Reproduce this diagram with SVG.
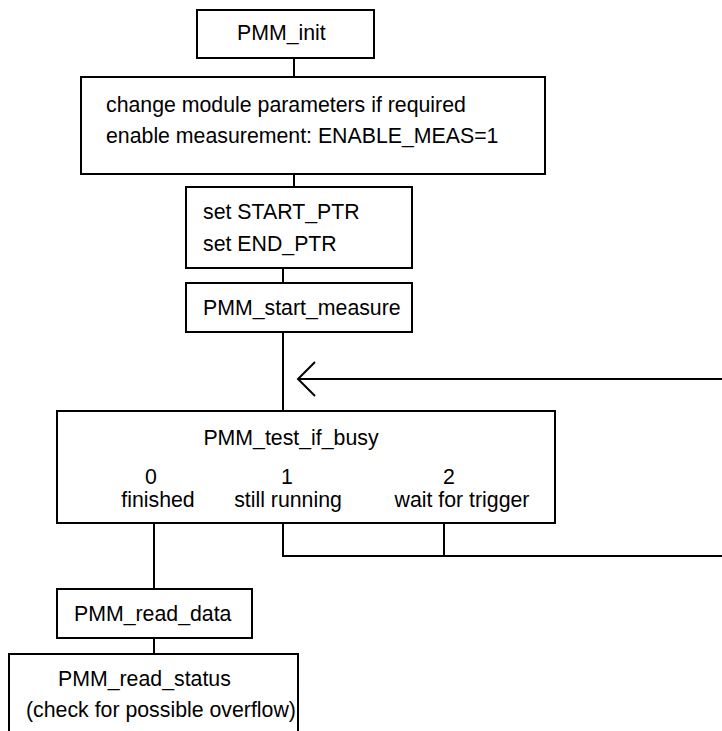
<svg xmlns="http://www.w3.org/2000/svg" width="722" height="731" viewBox="0 0 722 731">
<style>
.box{fill:#fff;stroke:#000;stroke-width:2}
.ln{fill:none;stroke:#000;stroke-width:2}
text{font-family:"Liberation Sans",Arial,sans-serif;font-size:21.3px;fill:#000}
.c{text-anchor:middle}
</style>
<defs>
<marker id="chev" markerUnits="userSpaceOnUse" viewBox="-19 -19 21 38" refX="0" refY="0" markerWidth="21" markerHeight="38" orient="auto" overflow="visible">
<path d="M-17,-17 L0,0 L-17,17" fill="none" stroke="#000" stroke-width="2"/>
</marker>
</defs>
<rect width="722" height="731" fill="#fff"/>
<g id="connectors">
<line class="ln" x1="294" y1="58" x2="294" y2="77"/>
<line class="ln" x1="294" y1="174" x2="294" y2="187"/>
<line class="ln" x1="283" y1="268" x2="283" y2="283"/>
<line class="ln" x1="283" y1="332" x2="283" y2="411"/>
<line class="ln" x1="722" y1="379" x2="298" y2="379" marker-end="url(#chev)"/>
<polyline class="ln" points="283,523 283,556 722,556"/>
<line class="ln" x1="444" y1="523" x2="444" y2="556"/>
<line class="ln" x1="154" y1="523" x2="154" y2="589"/>
<line class="ln" x1="154" y1="638" x2="154" y2="654"/>
</g>
<g id="pmm_init">
<rect class="box" x="197" y="10" width="177" height="48"/>
<text x="237" y="40">PMM_init</text>
</g>
<g id="change_params">
<rect class="box" x="81" y="77" width="464" height="97"/>
<text x="106" y="112">change module parameters if required</text>
<text x="106" y="143">enable measurement: ENABLE_MEAS=1</text>
</g>
<g id="set_ptr">
<rect class="box" x="186" y="187" width="226" height="81"/>
<text x="203" y="219">set START_PTR</text>
<text x="203" y="251">set END_PTR</text>
</g>
<g id="start_measure">
<rect class="box" x="186" y="283" width="226" height="49"/>
<text x="203" y="315">PMM_start_measure</text>
</g>
<g id="test_if_busy">
<rect class="box" x="57" y="411" width="498" height="112"/>
<text class="c" x="291" y="445">PMM_test_if_busy</text>
<text class="c" x="151" y="484">0</text>
<text class="c" x="158" y="507">finished</text>
<text class="c" x="287" y="484">1</text>
<text class="c" x="288" y="507">still running</text>
<text class="c" x="449" y="484">2</text>
<text class="c" x="462" y="507">wait for trigger</text>
</g>
<g id="read_data">
<rect class="box" x="57" y="589" width="195" height="49"/>
<text x="74" y="621">PMM_read_data</text>
</g>
<g id="read_status">
<rect class="box" x="9" y="654" width="289" height="90"/>
<text x="58" y="686">PMM_read_status</text>
<text x="26" y="717">(check for possible overflow)</text>
</g>
</svg>
